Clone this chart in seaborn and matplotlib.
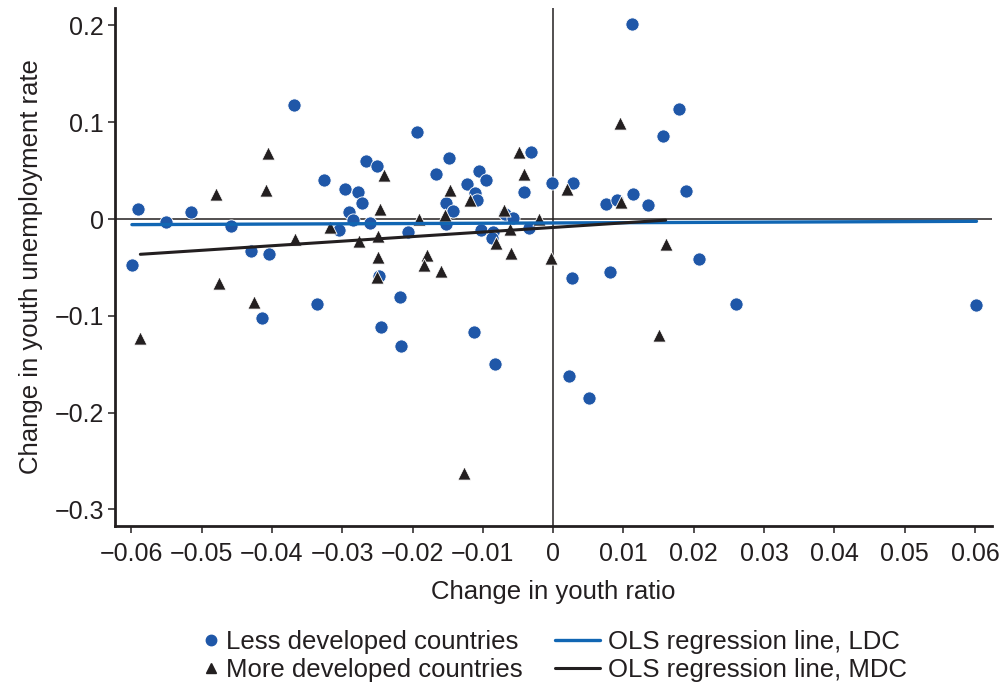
import numpy as np
import pandas as pd
import matplotlib
matplotlib.use("Agg")
import matplotlib.pyplot as plt
from matplotlib.lines import Line2D
import seaborn as sns

# Less developed countries (LDC)
ldc_x = [-0.0599, -0.0590, -0.0551, -0.0515, -0.0458, -0.0429, -0.0404, -0.0414, -0.0369, -0.0336,
         -0.0326, -0.0305, -0.0296, -0.0290, -0.0285, -0.0278, -0.0272, -0.0266, -0.0261, -0.0251,
         -0.0248, -0.0245, -0.0218, -0.0217, -0.0206, -0.0194, -0.0166, -0.0153, -0.0148, -0.0153,
         -0.0142, -0.0122, -0.0113, -0.0111, -0.0108, -0.0105, -0.0102, -0.0096, -0.0086, -0.0087,
         -0.0083, -0.0069, -0.0057, -0.0035, -0.0031, -0.0041, -0.0002, 0.0023, 0.0028, 0.0027,
         0.0051, 0.0075, 0.0081, 0.0091, 0.0112, 0.0113, 0.0135, 0.0156, 0.0179, 0.0189,
         0.0208, 0.0260, 0.0602]
ldc_y = [-0.0478, 0.0100, -0.0028, 0.0072, -0.0069, -0.0331, -0.0365, -0.1020, 0.1181, -0.0881,
         0.0403, -0.0111, 0.0315, 0.0075, -0.0010, 0.0276, 0.0163, 0.0602, -0.0044, 0.0551,
         -0.0589, -0.1113, -0.0809, -0.1312, -0.0129, 0.0899, 0.0460, 0.0168, 0.0633, -0.0054,
         0.0083, 0.0360, -0.1170, 0.0271, 0.0194, 0.0494, -0.0112, 0.0401, -0.0129, -0.0191,
         -0.1498, 0.0049, 0.0010, -0.0090, 0.0695, 0.0282, 0.0369, -0.1622, 0.0369, -0.0606,
         -0.1846, 0.0158, -0.0551, 0.0196, 0.2011, 0.0258, 0.0148, 0.0861, 0.1136, 0.0289,
         -0.0416, -0.0878, -0.0885]

# More developed countries (MDC)
mdc_x = [-0.0587, -0.0480, -0.0475, -0.0426, -0.0405, -0.0408, -0.0367, -0.0318, -0.0276, -0.0249,
         -0.0249, -0.0251, -0.0246, -0.0240, -0.0191, -0.0180, -0.0183, -0.0160, -0.0154, -0.0146,
         -0.0118, -0.0127, -0.0081, -0.0070, -0.0062, -0.0060, -0.0048, -0.0042, -0.0020, -0.0003,
         0.0019, 0.0095, 0.0096, 0.0160, 0.0151]
mdc_y = [-0.1226, 0.0256, -0.0656, -0.0861, 0.0685, 0.0296, -0.0205, -0.0085, -0.0225, -0.0174,
         -0.0389, -0.0596, 0.0100, 0.0451, 0.0002, -0.0367, -0.0478, -0.0540, 0.0041, 0.0305,
         0.0196, -0.2624, -0.0250, 0.0090, -0.0105, -0.0351, 0.0695, 0.0470, 0.0000, -0.0403,
         0.0315, 0.0989, 0.0173, -0.0258, -0.1198]

x_ticks = [-0.06, -0.05, -0.04, -0.03, -0.02, -0.01, 0, 0.01, 0.02, 0.03, 0.04, 0.05, 0.06]
x_ticklabels = ["\u22120.06", "\u22120.05", "\u22120.04", "\u22120.03", "\u22120.02", "\u22120.01", "0",
                "0.01", "0.02", "0.03", "0.04", "0.05", "0.06"]
y_ticks = [0.2, 0.1, 0, -0.1, -0.2, -0.3]
y_ticklabels = ["0.2", "0.1", "0", "\u22120.1", "\u22120.2", "\u22120.3"]

labels = ["Less developed countries", "More developed countries",
          "OLS regression line, LDC", "OLS regression line, MDC"]

BLUE = "#1f57a8"
LINE_BLUE = "#1166b3"
DARK = "#231f20"

sns.set_style("ticks")
plt.rcParams['font.family'] = ['Liberation Sans', 'DejaVu Sans']
plt.rcParams['axes.unicode_minus'] = True

ldc = pd.DataFrame({"x": ldc_x, "y": ldc_y})
mdc = pd.DataFrame({"x": mdc_x, "y": mdc_y})

fig = plt.figure(figsize=(10.03, 6.84), dpi=100)
ax = fig.add_axes([0.1147, 0.2314, 0.8743, 0.7565])

ax.axhline(0, color=DARK, lw=1.1, zorder=1)
ax.axvline(0, color=DARK, lw=1.1, zorder=1)

sns.scatterplot(data=ldc, x="x", y="y", ax=ax, marker="o", s=90, color=BLUE,
                edgecolor="white", linewidth=0.6, zorder=3)
sns.scatterplot(data=mdc, x="x", y="y", ax=ax, marker="^", s=90, color=DARK,
                edgecolor="white", linewidth=0.6, zorder=3)

sns.regplot(data=ldc, x="x", y="y", ax=ax, scatter=False, ci=None,
            line_kws=dict(color=LINE_BLUE, lw=2.4, zorder=4))
sns.regplot(data=mdc, x="x", y="y", ax=ax, scatter=False, ci=None,
            line_kws=dict(color=DARK, lw=2.2, zorder=4))

ax.set_xlim(-0.0623, 0.0624)
ax.set_ylim(-0.3168, 0.2177)
ax.set_xticks(x_ticks)
ax.set_xticklabels(x_ticklabels)
ax.set_yticks(y_ticks)
ax.set_yticklabels(y_ticklabels)
ax.tick_params(axis="both", direction="out", length=5, width=1.1, labelsize=18, color=DARK,
               labelcolor=DARK)
ax.tick_params(axis="x", pad=7)
ax.tick_params(axis="y", pad=3)
for side in ["top", "right"]:
    ax.spines[side].set_visible(False)
for side in ["left", "bottom"]:
    ax.spines[side].set_linewidth(2)
    ax.spines[side].set_color(DARK)

ax.set_xlabel("Change in youth ratio", fontsize=18.5, color=DARK, labelpad=10)
ax.set_ylabel("Change in youth unemployment rate", fontsize=18.5, color=DARK, labelpad=8)

marker_handles = [
    Line2D([], [], ls="none", marker="o", ms=7.5, color=BLUE),
    Line2D([], [], ls="none", marker="^", ms=7.5, color=DARK),
]
line_handles = [
    Line2D([], [], color=LINE_BLUE, lw=2.4),
    Line2D([], [], color=DARK, lw=2.2),
]
fig.legend(marker_handles, labels[:2], loc="center left", bbox_to_anchor=(0.2024, 0.0405),
           frameon=False, fontsize=18.5, handlelength=0.6, handletextpad=0.3,
           labelspacing=0.15, borderpad=0, borderaxespad=0, labelcolor=DARK)
fig.legend(line_handles, labels[2:], loc="center left", bbox_to_anchor=(0.5533, 0.0405),
           frameon=False, fontsize=18.5, handlelength=1.75, handletextpad=0.3,
           labelspacing=0.15, borderpad=0, borderaxespad=0, labelcolor=DARK)

fig.savefig("out.png", dpi=100)
